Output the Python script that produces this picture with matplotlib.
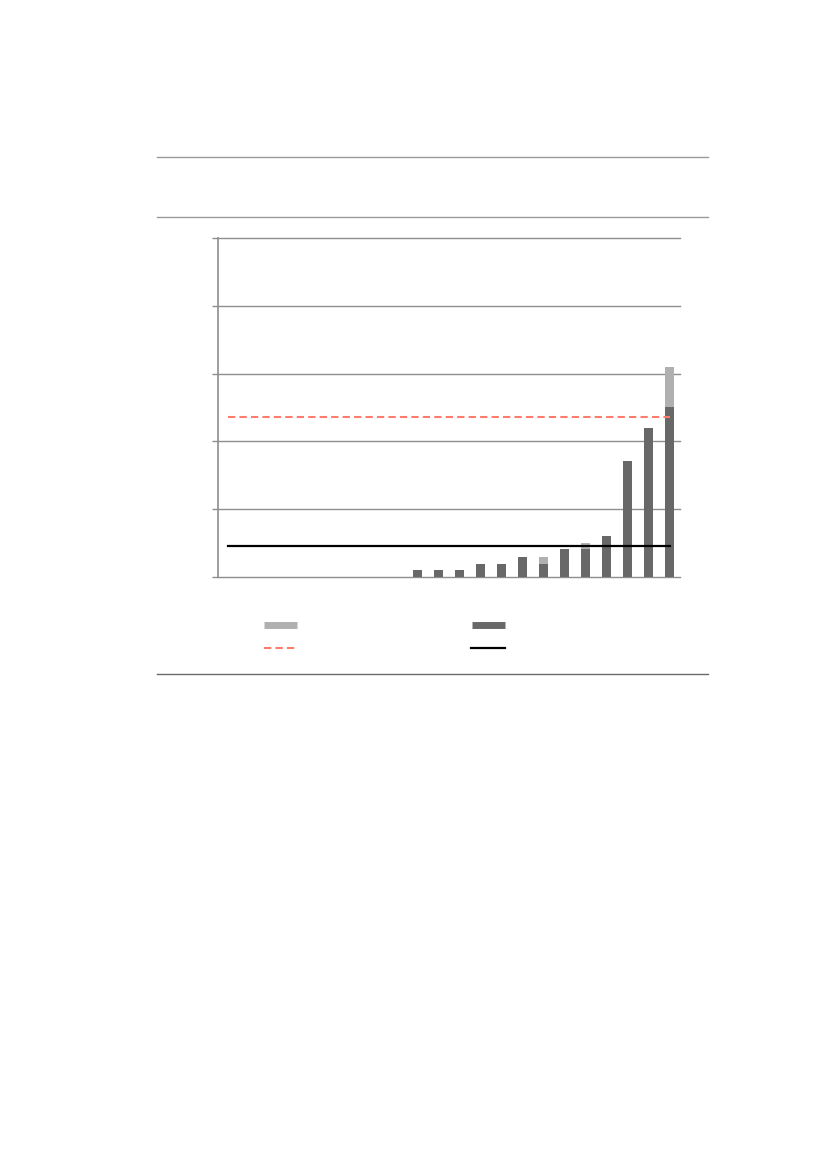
import numpy as np
import matplotlib
matplotlib.use("Agg")
import matplotlib.pyplot as plt
from matplotlib.lines import Line2D

# 22 categories, the first nine are empty
n_cat = 22
base_vals = [0, 0, 0, 0, 0, 0, 0, 0, 0,
             0.10, 0.10, 0.10, 0.19, 0.19, 0.30, 0.19, 0.41, 0.41, 0.61, 1.71, 2.20, 2.51]
extra_vals = [0, 0, 0, 0, 0, 0, 0, 0, 0,
              0, 0, 0, 0, 0, 0, 0.11, 0, 0.09, 0, 0, 0, 0.59]
red_level = 2.36
black_level = 0.46

light = '#b0b0b0'
dark = '#686868'
red = '#ff7b6b'
grid_c = '#8e8e8e'

W, H = 827, 1170
fig = plt.figure(figsize=(W / 100, H / 100), dpi=100)

ax = fig.add_axes([218 / W, 1 - 577 / H, (680 - 218) / W, (577 - 238) / H])
x = np.arange(n_cat)
ax.bar(x, base_vals, width=0.42, color=dark, zorder=3)
ax.bar(x, extra_vals, width=0.42, bottom=base_vals, color=light, zorder=3)
ax.plot([x[0], x[-1]], [red_level, red_level], color=red, lw=1.5, ls=(0, (3.5, 2)), zorder=4)
ax.plot([x[0], x[-1]], [black_level, black_level], color='black', lw=1.6, zorder=4)

ax.set_xlim(-0.5, n_cat - 0.5)
ax.set_ylim(0, 5)
ax.set_yticks([0, 1, 2, 3, 4, 5])
ax.set_yticklabels([])
ax.set_xticks([])
for g in [0, 1, 2, 3, 4, 5]:
    ax.axhline(g, color=grid_c, lw=1, zorder=1, clip_on=False)
for s in ['top', 'right', 'bottom']:
    ax.spines[s].set_visible(False)
ax.spines['left'].set_color(grid_c)
ax.spines['left'].set_linewidth(1.2)
ax.tick_params(axis='y', color=grid_c, length=4, width=1)

# horizontal rules of the frame
for yy, c in [(157, '#9a9a9a'), (217, '#9a9a9a'), (674, '#6a6a6a')]:
    fig.add_artist(Line2D([157 / W, 708 / W], [1 - yy / H, 1 - yy / H], color=c, lw=1))

# legend keys (no labels in the reference)
fig.add_artist(Line2D([264 / W, 297 / W], [1 - 624.5 / H] * 2, color=light, lw=5, solid_capstyle='butt'))
fig.add_artist(Line2D([472 / W, 505 / W], [1 - 624.5 / H] * 2, color=dark, lw=5, solid_capstyle='butt'))
fig.add_artist(Line2D([264 / W, 298 / W], [1 - 647.5 / H] * 2, color=red, lw=1.5, ls=(0, (3.5, 2))))
fig.add_artist(Line2D([471 / W, 505 / W], [1 - 647.5 / H] * 2, color='black', lw=1.6))

fig.savefig('out.png', dpi=100)
